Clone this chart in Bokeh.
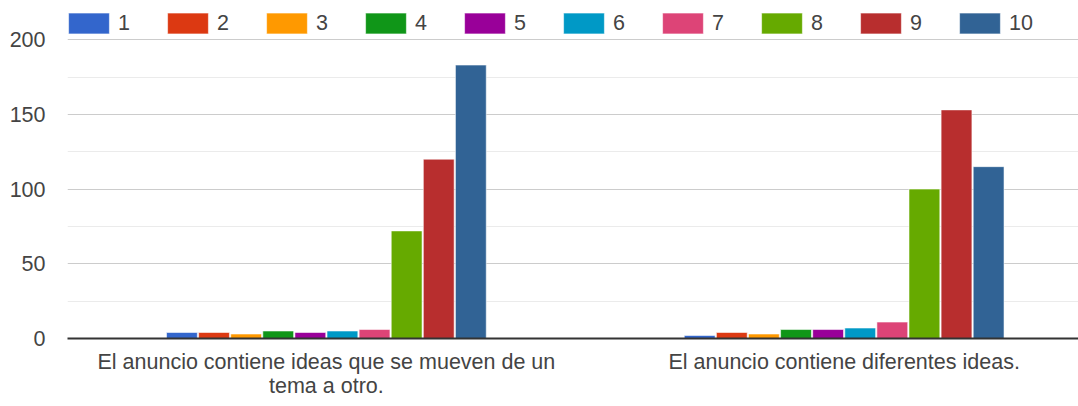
from bokeh.plotting import figure
from bokeh.models import ColumnDataSource, FixedTicker
from bokeh.transform import dodge
from bokeh.embed import file_html
from bokeh.resources import INLINE

categories = ["El anuncio contiene ideas que se mueven de un\ntema a otro.",
              "El anuncio contiene diferentes ideas."]
series = ["1", "2", "3", "4", "5", "6", "7", "8", "9", "10"]
colors = ["#3366cc", "#dc3912", "#ff9900", "#109618", "#990099",
          "#0099c6", "#dd4477", "#66aa00", "#b82e2e", "#316395"]
s1 = [4, 2]
s2 = [4, 4]
s3 = [3, 3]
s4 = [5, 6]
s5 = [4, 6]
s6 = [5, 7]
s7 = [6, 11]
s8 = [72, 100]
s9 = [120, 153]
s10 = [183, 115]
values = [s1, s2, s3, s4, s5, s6, s7, s8, s9, s10]
y_ticks = [0, 50, 100, 150, 200]
y_minor = [25, 75, 125, 175]

FONT = "Liberation Sans"
TXT = "#444444"
FS = "21.5px"

data = {"x": list(range(len(categories)))}
for name, vals in zip(series, values):
    data["s" + name] = vals
src = ColumnDataSource(data)

p = figure(frame_width=1011, frame_height=338,
           x_range=(-0.5, 1.4526), y_range=(0, 226.2),
           output_backend="svg", toolbar_location=None,
           min_border_left=67, min_border_right=0,
           min_border_top=0, min_border_bottom=0)
p.outline_line_color = None
p.background_fill_color = "white"
p.border_fill_color = "white"

pitch = 0.062
width = 0.0595
n = len(series)
for i, (name, col) in enumerate(zip(series, colors)):
    off = (i - (n - 1) / 2) * pitch
    p.vbar(x=dodge("x", off, range=p.x_range), top="s" + name, width=width,
           source=src, fill_color=col, line_color="white", line_alpha=0.55,
           line_width=1, legend_label=name)

# axes
p.xaxis.ticker = FixedTicker(ticks=list(range(len(categories))))
p.xaxis.major_label_overrides = {i: c for i, c in enumerate(categories)}
p.xaxis.major_tick_line_color = None
p.xaxis.minor_tick_line_color = None
p.xaxis.axis_line_color = "#333333"
p.xaxis.axis_line_width = 2
p.xaxis.major_label_text_font = FONT
p.xaxis.major_label_text_font_size = FS
p.xaxis.major_label_text_color = TXT
p.xaxis.major_label_text_line_height = 1.03
p.xaxis.major_label_standoff = 5

p.yaxis.ticker = FixedTicker(ticks=y_ticks, minor_ticks=y_minor)
p.yaxis.axis_line_color = None
p.yaxis.major_tick_line_color = None
p.yaxis.minor_tick_line_color = None
p.yaxis.major_label_text_font = FONT
p.yaxis.major_label_text_font_size = FS
p.yaxis.major_label_text_color = TXT
p.yaxis.major_label_standoff = 16

p.xgrid.grid_line_color = None
p.ygrid.grid_line_color = "#cccccc"
p.ygrid.grid_line_width = 1
p.ygrid.minor_grid_line_color = "#ebebeb"
p.ygrid.minor_grid_line_width = 1

lg = p.legend[0]
lg.orientation = "horizontal"
lg.location = (-4, 302)
lg.margin = 0
lg.padding = 0
lg.border_line_color = None
lg.background_fill_alpha = 0
lg.glyph_width = 51
lg.glyph_height = 26
lg.label_standoff = 4
lg.label_width = 40
lg.spacing = 4
lg.label_text_font = FONT
lg.label_text_font_size = FS
lg.label_text_color = TXT

open("out.html", "w").write(file_html(p, INLINE))
